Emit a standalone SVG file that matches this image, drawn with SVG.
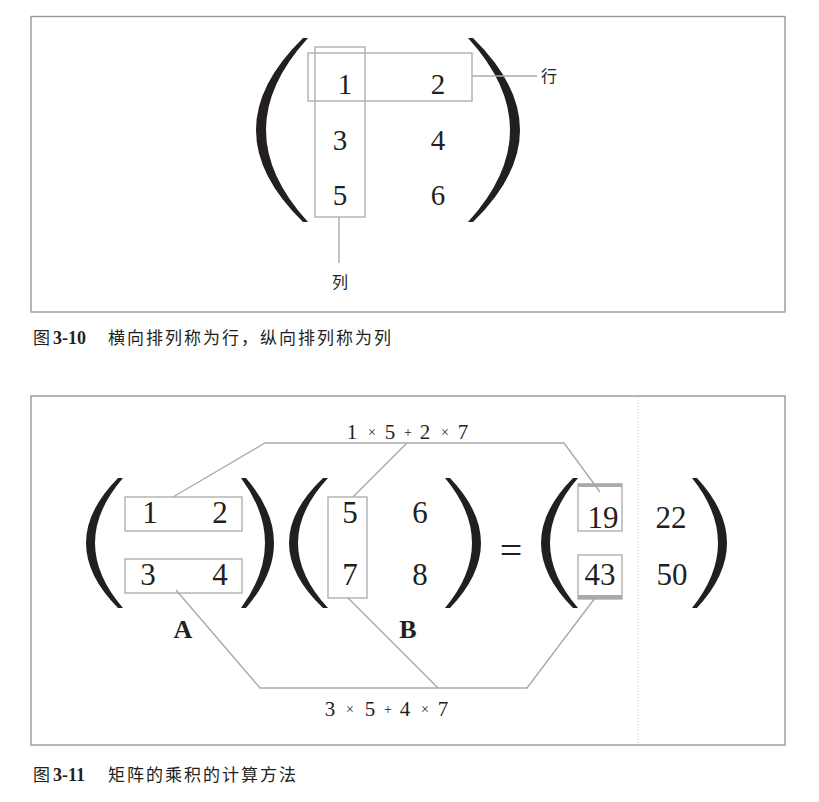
<svg xmlns="http://www.w3.org/2000/svg" width="819" height="802" viewBox="0 0 819 802">
<style>
.frame{fill:none;stroke:#999;stroke-width:1.4}
.box{fill:none;stroke:#aaa;stroke-width:1.3}
.conn{fill:none;stroke:#aaa;stroke-width:1.4}
.paren{fill:#231f20}
.num{font-family:"Liberation Serif","Times New Roman",serif;fill:#231f20;text-anchor:middle}
.n1{font-size:29px}
.n2{font-size:31px}
.lbl{font-family:"Liberation Serif","Times New Roman",serif;fill:#231f20;text-anchor:middle;font-size:21px}
.op{font-size:14px}
.mat{font-family:"Liberation Serif","Times New Roman",serif;font-weight:bold;font-size:26px;fill:#231f20;text-anchor:middle}
.cjk{font-family:"Noto Sans CJK SC","Noto Sans",sans-serif;fill:#231f20;font-size:16px}
.cap{font-family:"Noto Sans CJK SC","Noto Sans",sans-serif;fill:#231f20;font-size:17px;letter-spacing:2px}
.capn{font-family:"Liberation Serif","Times New Roman",serif;font-weight:bold;fill:#231f20;font-size:18px}
</style>
<rect width="819" height="802" fill="#fff"/>

<!-- Figure 3-10 -->
<g id="fig310-frame"><rect class="frame" x="31" y="16.5" width="754" height="295.5"/></g>
<g id="fig310-matrix">
<path class="paren" d="M303,38 Q209,130 303,222 L308,222 Q224,130 308,38 Z"/>
<path class="paren" d="M473,38 Q567,130 473,222 L468,222 Q552,130 468,38 Z"/>
<text class="num n1" x="345" y="94">1</text>
<text class="num n1" x="438" y="94">2</text>
<text class="num n1" x="340" y="150">3</text>
<text class="num n1" x="438" y="150">4</text>
<text class="num n1" x="340" y="205">5</text>
<text class="num n1" x="438" y="205">6</text>
</g>
<g id="row-box"><rect class="box" x="308" y="53" width="164" height="48"/></g>
<g id="col-box"><rect class="box" x="315" y="47" width="50" height="170"/></g>
<g id="label-row"><text class="cjk" x="541" y="82">行</text></g>
<g id="label-col"><text class="cjk" x="340" y="288" text-anchor="middle">列</text></g>
<g id="fig310-connectors">
<line class="conn" x1="472" y1="76" x2="537" y2="76"/>
<line class="conn" x1="339" y1="217" x2="339" y2="263"/>
</g>
<g id="caption310">
<text class="cjk" x="33" y="344" style="font-size:17px">图</text>
<text class="capn" x="53" y="344">3-10</text>
<text class="cap" x="108" y="344">横向排列称为行，纵向排列称为列</text>
</g>

<!-- Figure 3-11 -->
<g id="fig311-frame">
<rect class="frame" x="31" y="396" width="754" height="349"/>
<line x1="638" y1="397" x2="638" y2="744" stroke="#ccc" stroke-width="1" stroke-dasharray="1,2"/>
</g>
<g id="fig311-connectors">
<polyline class="conn" points="173,497 265,443 564,443 600,492"/>
<line class="conn" x1="353" y1="497" x2="407" y2="443"/>
<polyline class="conn" points="176,590 260,688 527,688 595,598"/>
<line class="conn" x1="348" y1="598" x2="438" y2="688"/>
</g>
<g id="matrix-A">
<path class="paren" d="M118,478 Q54,543 118,608 L123,608 Q67,543 123,478 Z"/>
<path class="paren" d="M246,478 Q302,543 246,608 L241,608 Q289,543 241,478 Z"/>
<rect class="box" x="125" y="497" width="117" height="34" fill="#fff"/>
<rect class="box" x="125" y="559" width="117" height="34" fill="#fff"/>
<text class="num n2" x="150" y="523">1</text>
<text class="num n2" x="220" y="523">2</text>
<text class="num n2" x="148" y="585">3</text>
<text class="num n2" x="220" y="585">4</text>
<text class="mat" x="183" y="638">A</text>
</g>
<g id="matrix-B">
<path class="paren" d="M323,478 Q255,543 323,608 L328,608 Q268,543 328,478 Z"/>
<path class="paren" d="M450,478 Q512,543 450,608 L445,608 Q499,543 445,478 Z"/>
<rect class="box" x="328" y="497" width="39" height="101" fill="#fff"/>
<text class="num n2" x="350" y="523">5</text>
<text class="num n2" x="420" y="523">6</text>
<text class="num n2" x="350" y="585">7</text>
<text class="num n2" x="420" y="585">8</text>
<text class="mat" x="408" y="638">B</text>
</g>
<g id="equals"><text class="num" x="511" y="564" style="font-size:40px">=</text></g>
<g id="matrix-C">
<path class="paren" d="M573,478 Q509,543 573,608 L578,608 Q522,543 578,478 Z"/>
<path class="paren" d="M697,478 Q757,543 697,608 L692,608 Q744,543 692,478 Z"/>
<rect class="box" x="578" y="484" width="44" height="47"/>
<rect x="578" y="483.5" width="44" height="3.5" fill="#aaa"/>
<rect class="box" x="578" y="555" width="44" height="44"/>
<rect x="578" y="595" width="44" height="4" fill="#aaa"/>
<text class="num n2" x="603" y="528">19</text>
<text class="num n2" x="671" y="528">22</text>
<text class="num n2" x="600" y="585">43</text>
<text class="num n2" x="672" y="585">50</text>
</g>
<g id="label-top">
<text class="lbl" y="439"><tspan x="352">1</tspan><tspan class="op" x="372" dy="-2">×</tspan><tspan x="390" dy="2">5</tspan><tspan class="op" x="408" dy="-2">+</tspan><tspan x="425" dy="2">2</tspan><tspan class="op" x="445" dy="-2">×</tspan><tspan x="463" dy="2">7</tspan></text>
</g>
<g id="label-bottom">
<text class="lbl" y="716"><tspan x="330">3</tspan><tspan class="op" x="350" dy="-2">×</tspan><tspan x="370" dy="2">5</tspan><tspan class="op" x="388" dy="-2">+</tspan><tspan x="405" dy="2">4</tspan><tspan class="op" x="425" dy="-2">×</tspan><tspan x="443" dy="2">7</tspan></text>
</g>
<g id="caption311">
<text class="cjk" x="33" y="781" style="font-size:17px">图</text>
<text class="capn" x="53" y="781">3-11</text>
<text class="cap" x="108" y="781">矩阵的乘积的计算方法</text>
</g>
</svg>
